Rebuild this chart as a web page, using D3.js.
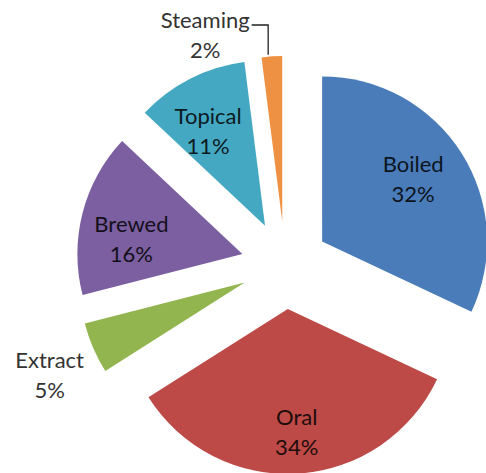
<!DOCTYPE html>
<html>
<head>
<meta charset="utf-8">
<script src="https://cdn.jsdelivr.net/npm/d3@7"></script>
<style>
  body { margin: 0; background: #fff; }
  svg { display: block; }
  text { font-family: Lato, "Open Sans", sans-serif; }
</style>
</head>
<body>
<svg width="486" height="473"></svg>
<script>
// data
var categories = ["Boiled", "Oral", "Extract", "Brewed", "Topical", "Steaming"];
var shares = [32, 34, 5, 16, 11, 2];
var colors = ["#4a7cb9", "#bd4a47", "#92b550", "#7b5fa0", "#45a8c2", "#ee9142"];

// label placement: radius factor and angle shift (deg) from slice mid
var labelK = [0.644, 0.796, 1.33, 0.674, 0.63, 1.176];
var labelShift = [1.3, -0.3, -3.9, -10.8, -6.2, -19.8];
var outside = [false, false, true, false, false, true];

var svg = d3.select("svg");
var cx = 285, cy = 265, r = 165, explode = 44;
var g = svg.append("g").attr("transform", "translate(" + cx + "," + cy + ")");

var pie = d3.pie().sort(null).value(function(d) { return d; });
var arc = d3.arc().innerRadius(0).outerRadius(r);
var arcs = pie(shares);

function dir(a) { return [Math.sin(a), -Math.cos(a)]; }

var slices = g.selectAll("g.slice")
  .data(arcs)
  .enter().append("g")
  .attr("class", "slice")
  .attr("transform", function(d) {
    var m = dir((d.startAngle + d.endAngle) / 2);
    return "translate(" + (m[0] * explode) + "," + (m[1] * explode) + ")";
  });

slices.append("path")
  .attr("d", arc)
  .attr("fill", function(d, i) { return colors[i]; });

// labels
slices.each(function(d, i) {
  var a = (d.startAngle + d.endAngle) / 2 + labelShift[i] * Math.PI / 180;
  var p = dir(a);
  var x = p[0] * r * labelK[i], y = p[1] * r * labelK[i];
  var col = outside[i] ? "#333" : d3.interpolateRgb(colors[i], "#000")(0.84);
  var t = d3.select(this).append("text")
    .attr("text-anchor", "middle")
    .attr("font-size", "22px")
    .attr("fill", col);
  t.append("tspan").attr("x", x).attr("y", y - 15).text(categories[i]);
  t.append("tspan").attr("x", x).attr("y", y + 15).text(shares[i] + "%");

  if (categories[i] === "Steaming") {
    var bb = t.node().getBBox();
    var ta = d.startAngle + (d.endAngle - d.startAngle) * 0.32;
    var q = dir(ta);
    var ex = q[0] * r, ey = q[1] * r - 2;
    var ly = y - 18;
    d3.select(this).append("polyline")
      .attr("points", [[bb.x + bb.width + 2, ly], [ex, ly], [ex, ey]].map(function(v) { return v.join(","); }).join(" "))
      .attr("fill", "none")
      .attr("stroke", "#222")
      .attr("stroke-width", 1.3);
  }
});
</script>
</body>
</html>
